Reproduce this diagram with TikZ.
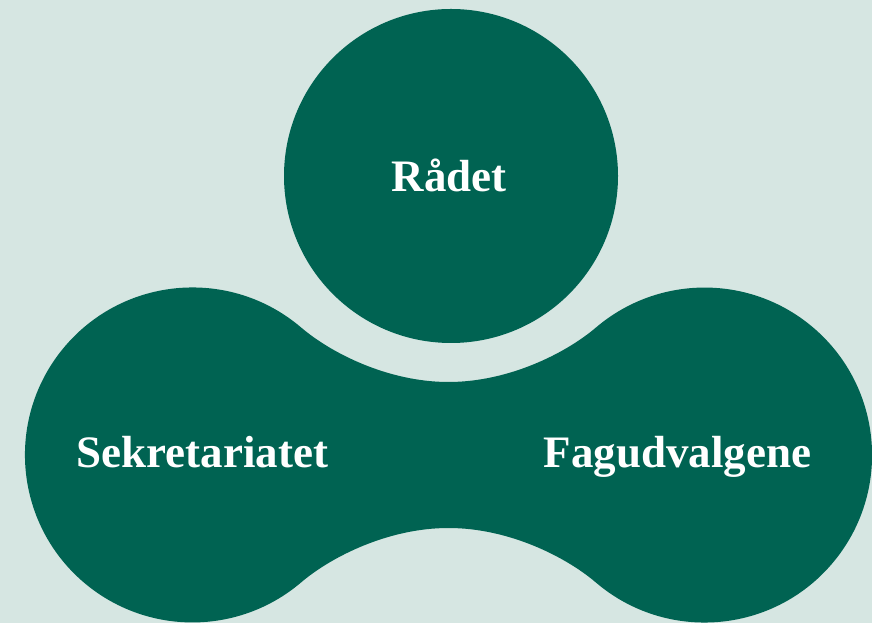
\documentclass[tikz,border=0pt]{standalone}
\usepackage{fontspec}
\setmainfont{Liberation Serif}
\definecolor{bgmint}{RGB}{214,230,226}
\definecolor{deepgreen}{RGB}{0,99,82}
\begin{document}
\begin{tikzpicture}[x=1pt,y=1pt,
  blob/.style={fill=deepgreen,draw=none},
  label/.style={text=white,font=\fontsize{45}{49}\selectfont\bfseries,inner sep=0pt,anchor=base}]
  % canvas
  \fill[bgmint] (0,0) rectangle (872,623);
  \useasboundingbox (0,0) rectangle (872,623);

  % centres of the three lobes
  \coordinate (top) at (451,447);
  \coordinate (left) at (192.5,168);
  \coordinate (right) at (704.5,168);

  % upper lobe
  \fill[blob] (top) circle[radius=167];

  % lower two lobes joined by a waisted bridge
  \fill[blob] (301,295.6)
    arc[start angle=49.6,end angle=310.4,radius=167.5]
    .. controls (331.4,66.4) and (388.5,95) .. (448.5,95)
    .. controls (508.5,95) and (565.6,66.4) .. (596,40.4)
    arc[start angle=229.6,end angle=490.4,radius=167.5]
    .. controls (565.6,269.6) and (508.5,241) .. (448.5,241)
    .. controls (388.5,241) and (331.4,269.6) .. (301,295.6)
    -- cycle;

  % labels
  \node[label] (raadet) at (449,431) {Rådet};
  \node[label] (sekretariatet) at (202.5,155) {Sekretariatet};
  \node[label] (fagudvalgene) at (677.5,155) {Fagudvalgene};
\end{tikzpicture}
\end{document}
